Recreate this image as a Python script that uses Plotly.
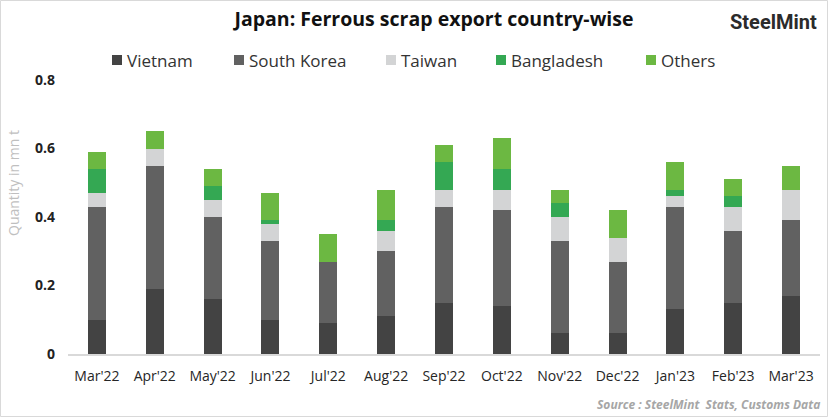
import plotly.graph_objects as go

months = ["Mar'22", "Apr'22", "May'22", "Jun'22", "Jul'22", "Aug'22", "Sep'22",
          "Oct'22", "Nov'22", "Dec'22", "Jan'23", "Feb'23", "Mar'23"]
vietnam = [0.10, 0.19, 0.16, 0.10, 0.09, 0.11, 0.15, 0.14, 0.06, 0.06, 0.13, 0.15, 0.17]
south_korea = [0.33, 0.36, 0.24, 0.23, 0.18, 0.19, 0.28, 0.28, 0.27, 0.21, 0.30, 0.21, 0.22]
taiwan = [0.04, 0.05, 0.05, 0.05, 0.00, 0.06, 0.05, 0.06, 0.07, 0.07, 0.03, 0.07, 0.09]
bangladesh = [0.07, 0.00, 0.04, 0.01, 0.00, 0.03, 0.08, 0.06, 0.04, 0.00, 0.02, 0.03, 0.00]
others = [0.05, 0.05, 0.05, 0.08, 0.08, 0.09, 0.05, 0.09, 0.04, 0.08, 0.08, 0.05, 0.07]
y_ticks = [0, 0.2, 0.4, 0.6, 0.8]
y_tick_text = ["0", "0.2", "0.4", "0.6", "0.8"]

series_names = ["Vietnam", "South Korea", "Taiwan", "Bangladesh", "Others"]
series_values = [vietnam, south_korea, taiwan, bangladesh, others]
series_colors = ["#434343", "#616161", "#d3d4d5", "#34a853", "#6cb842"]
# legend item left edges (px) — layout only
legend_x = [112, 234, 386, 496, 646]

W, H = 828, 417
L, R, T, B = 68, 8, 80, 63
pw, ph = W - L - R, H - T - B


def px(x):
    return (x - L) / pw


def py(y):
    return (H - B - y) / ph


fig = go.Figure()
for name, vals, col in zip(series_names, series_values, series_colors):
    fig.add_trace(go.Bar(x=months, y=vals, name=name, showlegend=False,
                         marker=dict(color=col, line=dict(width=0))))

fig.update_layout(
    width=W, height=H,
    barmode="stack", bargap=0.689,
    plot_bgcolor="white", paper_bgcolor="white",
    margin=dict(l=L, r=R, t=T, b=B, autoexpand=False),
    font=dict(family="Open Sans", color="#262626", size=14),
    title=dict(text="<b>Japan: Ferrous scrap export country-wise</b>", x=434 / W, xanchor="center",
               y=1 - 19 / H, yanchor="middle", font=dict(family="Open Sans", size=19.5, color="#111111")),
    showlegend=False,
    xaxis=dict(showline=True, linecolor="#d9d9d9", linewidth=2, ticks="",
               tickfont=dict(size=14, color="#262626"), ticklabelstandoff=8,
               showgrid=False, fixedrange=True),
    yaxis=dict(range=[0, 0.8], tickvals=y_ticks, ticktext=y_tick_text, showgrid=False, zeroline=False,
               showline=False, tickfont=dict(size=14, color="#222222", weight="bold"),
               ticklabelstandoff=12, fixedrange=True),
)

# custom legend
for name, col, lx in zip(series_names, series_colors, legend_x):
    fig.add_shape(type="rect", xref="paper", yref="paper",
                  x0=px(lx), x1=px(lx + 10), y0=py(65), y1=py(55),
                  fillcolor=col, line=dict(width=0))
    fig.add_annotation(text=name, xref="paper", yref="paper", x=px(lx + 13), y=py(60),
                       xanchor="left", yanchor="middle", showarrow=False,
                       font=dict(size=17, color="#333333"))

fig.add_annotation(text="Quantity in mn t", xref="paper", yref="paper", x=px(13), y=py(183),
                   xanchor="center", yanchor="middle", textangle=-90, showarrow=False,
                   font=dict(size=14, color="#bfbfbf"))
fig.add_annotation(text="<b>SteelMint</b>", xref="paper", yref="paper",
                   x=px(819), y=py(22), xanchor="right", yanchor="middle",
                   showarrow=False, font=dict(family="Roboto", size=20, color="#2b2b2b"))
fig.add_annotation(text="<b><i>Source : SteelMint  Stats, Customs Data</i></b>", xref="paper", yref="paper",
                   x=px(822), y=py(404), xanchor="right", yanchor="middle",
                   showarrow=False, font=dict(size=12, color="#a6a6a6"))
fig.add_shape(type="rect", xref="paper", yref="paper",
              x0=px(0.5), x1=px(W - 0.5), y0=py(H - 0.5), y1=py(0.5),
              line=dict(color="#d9d9d9", width=1), layer="below")

fig.write_html("out.html")
